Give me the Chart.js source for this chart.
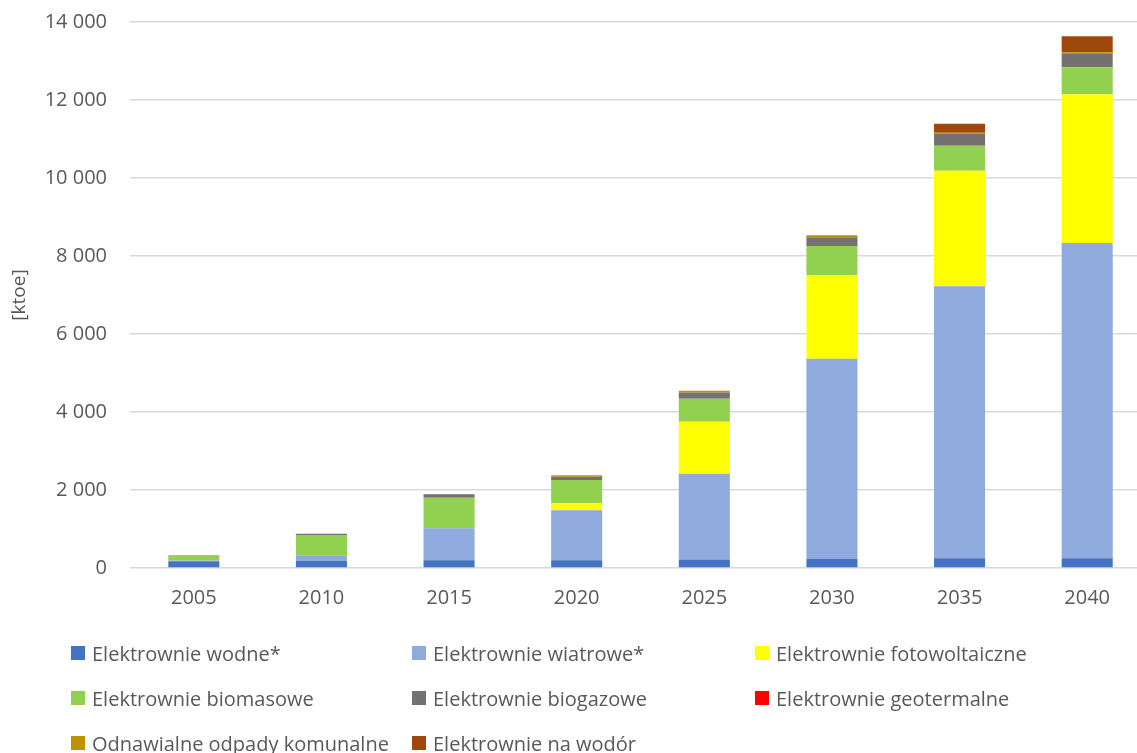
<!DOCTYPE html>
<html lang="pl">
<head>
<meta charset="utf-8">
<title>Produkcja energii z OZE</title>
<script src="https://cdn.jsdelivr.net/npm/chart.js@4/dist/chart.umd.min.js"></script>
<style>
  html, body { margin: 0; padding: 0; background: #fff; overflow: hidden; }
  body { width: 1137px; height: 753px; position: relative; font-family: "Open Sans", Lato, sans-serif; }
  #wrap { position: absolute; left: 0; top: 0; width: 1155px; height: 620px; }
  #legend { position: absolute; left: 0; top: 0; width: 1137px; height: 753px; pointer-events: none; }
  .item { position: absolute; display: flex; align-items: center; height: 24px; color: #595959; font-size: 20px; white-space: nowrap; }
  .sw { width: 14px; height: 14px; margin-right: 7px; flex: none; }
</style>
</head>
<body>
<div id="wrap"><canvas id="c"></canvas></div>
<div id="legend"></div>
<script>
// Years on the category axis
const years = ['2005', '2010', '2015', '2020', '2025', '2030', '2035', '2040'];

// Generation by source, ktoe
const hydro      = [170, 188, 197, 197, 220, 239, 250, 250];
const wind       = [20, 137, 820, 1282, 2197, 5129, 6972, 8083];
const solar      = [0, 0, 0, 180, 1333, 2145, 2966, 3812];
const biomass    = [120, 520, 786, 598, 590, 743, 641, 693];
const biogas     = [10, 35, 85, 85, 162, 223, 308, 342];
const geothermal = [0, 0, 0, 0, 0, 0, 0, 0];
const waste      = [0, 0, 10, 34, 43, 51, 25, 42];
const hydrogen   = [0, 0, 0, 0, 0, 0, 231, 410];

// Series names as shown in the legend
const seriesNames = [
  'Elektrownie wodne*',
  'Elektrownie wiatrowe*',
  'Elektrownie fotowoltaiczne',
  'Elektrownie biomasowe',
  'Elektrownie biogazowe',
  'Elektrownie geotermalne',
  'Odnawialne odpady komunalne',
  'Elektrownie na wodór'
];
const seriesColors = ['#4472C4', '#8FAADC', '#FFFF00', '#92D050', '#767171', '#FF0000', '#BF9000', '#9E480E'];
const seriesValues = [hydro, wind, solar, biomass, biogas, geothermal, waste, hydrogen];

// Y axis ticks
const yMin = 0, yMax = 14000, yStep = 2000;
const yTitle = '[ktoe]';

const textColor = '#595959';
const fontFamily = '"Open Sans", Lato, sans-serif';

const fmt = v => String(v).replace(/\B(?=(\d{3})+(?!\d))/g, ' ');

const datasets = seriesNames.map((name, i) => ({
  label: name,
  data: seriesValues[i],
  backgroundColor: seriesColors[i],
  borderWidth: 0,
  categoryPercentage: 1.0,
  barPercentage: 0.4
}));

const chart = new Chart(document.getElementById('c'), {
  type: 'bar',
  data: { labels: years, datasets },
  options: {
    responsive: true,
    maintainAspectRatio: false,
    animation: false,
    layout: { padding: { top: 22, right: 4, left: 0, bottom: 0 } },
    plugins: {
      legend: { display: false },
      tooltip: { enabled: false }
    },
    scales: {
      x: {
        stacked: true,
        grid: { display: false, drawTicks: false },
        border: { display: false },
        ticks: { color: textColor, font: { family: fontFamily, size: 20 }, padding: 18 },
        afterFit: s => { s.height = 52; }
      },
      y: {
        stacked: true,
        min: yMin,
        max: yMax,
        ticks: {
          stepSize: yStep,
          color: textColor,
          font: { family: fontFamily, size: 20 },
          padding: 23,
          callback: v => fmt(v)
        },
        grid: { color: '#D9D9D9', lineWidth: 1.5, drawTicks: false },
        border: { display: false },
        title: {
          display: true,
          text: yTitle,
          color: textColor,
          font: { family: fontFamily, size: 19 },
          padding: { top: 8, bottom: 0 }
        },
        afterFit: s => {
          s.width = 130;
          // only half a label height is needed above the top tick
          s.paddingTop = 12;
          s.paddingBottom = 12;
        }
      }
    }
  }
});

// Legend laid out in three columns below the plot
const legend = document.getElementById('legend');
const colX = [71, 412, 755];
const rowY = [641, 686, 731];
chart.data.datasets.forEach((ds, i) => {
  const el = document.createElement('div');
  el.className = 'item';
  el.style.left = colX[i % 3] + 'px';
  el.style.top = rowY[Math.floor(i / 3)] + 'px';
  const sw = document.createElement('span');
  sw.className = 'sw';
  sw.style.background = ds.backgroundColor;
  const tx = document.createElement('span');
  tx.textContent = ds.label;
  el.appendChild(sw);
  el.appendChild(tx);
  legend.appendChild(el);
});
</script>
</body>
</html>
